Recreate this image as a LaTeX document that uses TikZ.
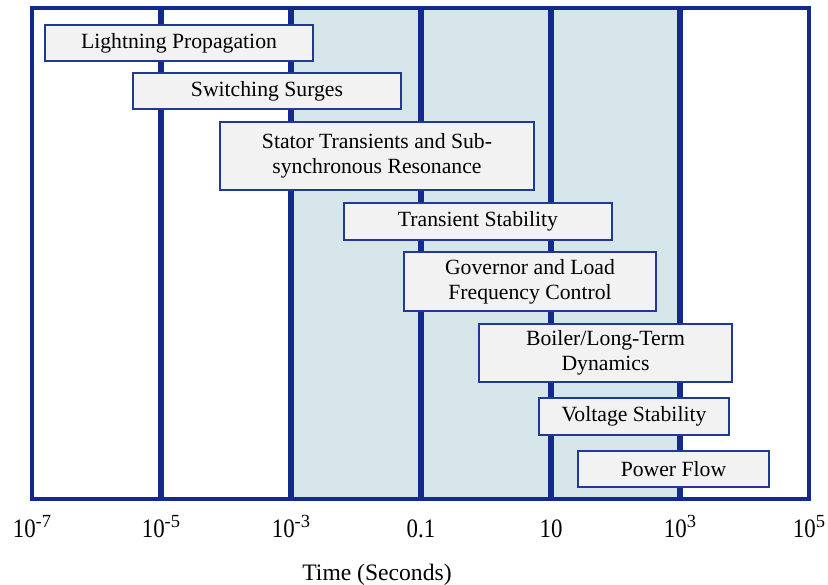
\documentclass[tikz,border=0pt]{standalone}
\usepackage{fontspec}
\setmainfont{Liberation Serif}
\newfontfamily\tickfont{Liberation Serif}[FakeStretch=0.86]
\usetikzlibrary{positioning}
\definecolor{gridblue}{RGB}{18,42,140}
\definecolor{boxblue}{RGB}{32,56,150}
\definecolor{boxgray}{RGB}{242,242,242}
\definecolor{bandblue}{RGB}{213,229,234}
\newcommand{\tsup}[1]{\raisebox{10pt}{\rmfamily\fontsize{18.5}{19}\selectfont #1}}
\tikzset{
    mybox/.style={rectangle,draw=boxblue,fill=boxgray,line width=1.6pt,inner sep=0pt,outer sep=0pt,align=center,font=\fontsize{21.7}{25}\selectfont},
    mygrid/.style={draw=gridblue,line width=5.5pt},
    mytick/.style={anchor=base,inner sep=0pt,font=\tickfont\fontsize{26.6}{30}\selectfont}
}

\begin{document}
\begin{tikzpicture}[x=1pt,y=-1pt]
\useasboundingbox (0,0) rectangle (828,585);
\fill[bandblue] (291,8) rectangle (680,499);
\draw[mygrid] (161,8) -- (161,499);
\draw[mygrid] (291,8) -- (291,499);
\draw[mygrid] (421,8) -- (421,499);
\draw[mygrid] (551,8) -- (551,499);
\draw[mygrid] (680,8) -- (680,499);
\draw[draw=gridblue,line width=3.8pt] (32,8) rectangle (809,499);

\node[mybox, minimum width=268pt, minimum height=36pt, anchor=north west] (lightning) at (45,25) {Lightning Propagation};
\node[mybox, minimum width=268pt, minimum height=36pt, below=12pt of lightning.south west, anchor=north west, xshift=88pt] (switching) {Switching Surges};
\node[mybox, minimum width=314pt, minimum height=68pt, below=13pt of switching.south west, anchor=north west, xshift=87pt] (stator) {Stator Transients and Sub-\\synchronous Resonance};
\node[mybox, minimum width=268pt, minimum height=37pt, below=13pt of stator.south west, anchor=north west, xshift=124pt] (transient) {Transient Stability};
\node[mybox, minimum width=252pt, minimum height=59pt, below=12pt of transient.south west, anchor=north west, xshift=60pt] (governor) {Governor and Load\\Frequency Control};
\node[mybox, minimum width=253pt, minimum height=58pt, below=13pt of governor.south west, anchor=north west, xshift=75pt] (boiler) {Boiler/Long-Term\\Dynamics};
\node[mybox, minimum width=190pt, minimum height=37pt, below=16pt of boiler.south west, anchor=north west, xshift=60pt] (voltage) {Voltage Stability};
\node[mybox, minimum width=191pt, minimum height=36pt, below=16pt of voltage.south west, anchor=north west, xshift=39pt] (powerflow) {Power Flow};

\node[mytick] (tick1) at (32,537) {10\tsup{-7}};
\node[mytick] (tick2) at (161,537) {10\tsup{-5}};
\node[mytick] (tick3) at (291,537) {10\tsup{-3}};
\node[mytick] (tick4) at (421,537) {0.1};
\node[mytick] (tick5) at (551,537) {10};
\node[mytick] (tick6) at (680,537) {10\tsup{3}};
\node[mytick] (tick7) at (809,537) {10\tsup{5}};
\node[anchor=base,inner sep=0pt,font=\fontsize{23.6}{28}\selectfont] (xlabel) at (377,580) {Time (Seconds)};

\end{tikzpicture}
\end{document}
